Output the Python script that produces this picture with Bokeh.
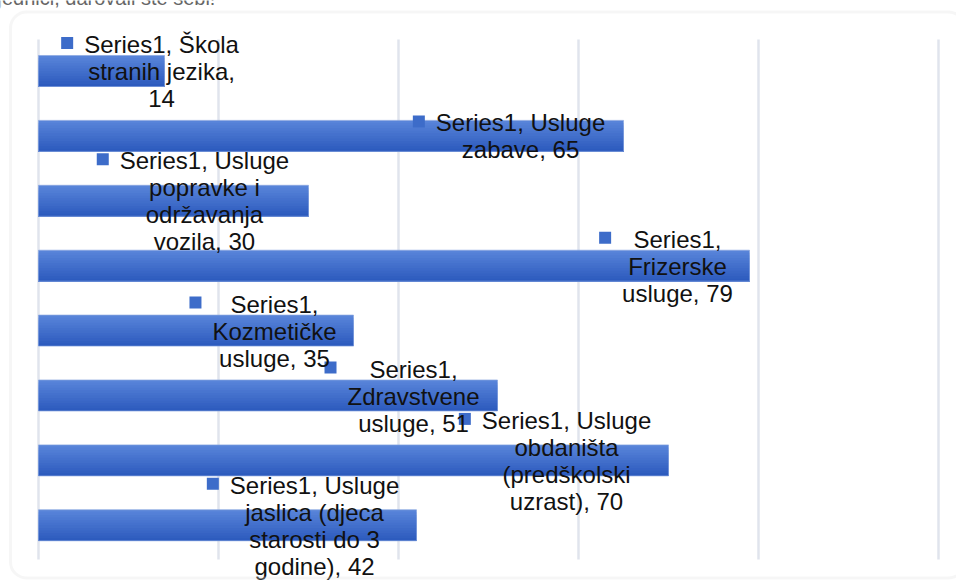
from bokeh.plotting import figure
from bokeh.models import ColumnDataSource, Range1d, BoxAnnotation
from bokeh.core.properties import value
from bokeh.embed import file_html
from bokeh.resources import INLINE

# ---------------- data ----------------
categories = [
    "Škola stranih jezika",
    "Usluge zabave",
    "Usluge popravke i održavanja vozila",
    "Frizerske usluge",
    "Kozmetičke usluge",
    "Zdravstvene usluge",
    "Usluge obdaništa (predškolski uzrast)",
    "Usluge jaslica (djeca starosti do 3 godine)",
]
values = [14, 65, 30, 79, 35, 51, 70, 42]
series_name = "Series1"
grid_ticks = [0, 20, 40, 60, 80, 100]
caption_text = "jednici, darovali ste sebi!"

# ---------------- label layout (positions / wrap widths) ----------------
label_x = [13.67, 53.56, 18.44, 71.0, 26.22, 41.67, 58.67, 30.67]
label_wrap_px = [165, 175, 175, 140, 140, 140, 175, 175]

# ---------------- styles ----------------
W, H = 956, 581
X0_PX = 38.0     # pixel column of value 0
PX_X = 9.0       # pixels per x unit
Y_FIRST = 70.5   # pixel row of first category centre
PX_Y = 64.9      # pixels per category
FONT = "Liberation Sans"
FS = 24
LINE_H = 27
TEXT_SHIFT = -9  # renderer baseline correction (px)
BAR_H = 0.478
BAR_TOP = (0x58, 0x84, 0xd9)
BAR_BOT = (0x2d, 0x5b, 0xbe)
KEY_COLOR = "#3d6cc9"
GRID_COLOR = "#e0e4ed"

n = len(categories)
y_pos = [n - 1 - i for i in range(n)]


def px_to_x(px):
    return (px - X0_PX) / PX_X


def py_to_y(py):
    return (n - 1) - (py - Y_FIRST) / PX_Y


# Arial / Liberation Sans advance widths (per 1000 em)
AW = {" ": 278, "(": 333, ")": 333, ",": 278, "F": 611, "K": 667, "S": 667,
      "U": 722, "Z": 611, "Š": 667, "a": 556, "b": 556, "c": 500, "č": 500,
      "d": 556, "e": 556, "g": 556, "h": 556, "i": 222, "j": 222, "k": 500,
      "l": 222, "m": 833, "n": 556, "o": 556, "p": 556, "r": 333, "s": 500,
      "š": 500, "t": 278, "u": 556, "v": 500, "z": 500, "ž": 500}


def tw(s):
    return sum(AW.get(c, 556) for c in s) * FS / 1000.0


def wrap(text, maxw):
    words = text.split(" ")
    lines, cur = [], ""
    for w in words:
        cand = w if not cur else cur + " " + w
        if tw(cand) <= maxw or not cur:
            cur = cand
        else:
            lines.append(cur)
            cur = w
    lines.append(cur)
    return lines


# ---------------- figure ----------------
p = figure(width=W, height=H, output_backend="svg", toolbar_location=None,
           x_range=Range1d(px_to_x(0), px_to_x(W)),
           y_range=Range1d(py_to_y(H), py_to_y(0)),
           min_border=0, min_border_left=0, min_border_right=0,
           min_border_top=0, min_border_bottom=0)
p.xaxis.visible = False
p.yaxis.visible = False
p.grid.visible = False
p.outline_line_color = None
p.background_fill_color = "white"
p.border_fill_color = "white"

# caption text cut off at the top of the page
p.text(x=[px_to_x(-3)], y=[py_to_y(6.5)], text=[caption_text],
       y_offset=[TEXT_SHIFT],
       text_font=value(FONT), text_font_size="20px", text_color="#666666",
       text_baseline="alphabetic", text_align="left")

# outer rounded frame
box = BoxAnnotation(left=px_to_x(10), right=px_to_x(964),
                    top=py_to_y(11.5), bottom=py_to_y(577.5),
                    fill_color=None, line_color="#e2e2e2", line_width=3,
                    border_radius=16)
p.add_layout(box)

# vertical gridlines
p.segment(x0=grid_ticks, x1=grid_ticks,
          y0=[py_to_y(559)] * len(grid_ticks),
          y1=[py_to_y(39)] * len(grid_ticks),
          line_color=GRID_COLOR, line_width=2.5)

# bars with vertical gradient (overlapping slices, no seams)
NS = 12
for s in range(NS):
    t = s / (NS - 1)
    col = tuple(int(round(BAR_TOP[k] + (BAR_BOT[k] - BAR_TOP[k]) * t)) for k in range(3))
    hexc = "#%02x%02x%02x" % col
    top_off = BAR_H / 2 - s * BAR_H / NS
    p.hbar(y=[yy + (top_off - BAR_H / 2) / 2 for yy in y_pos], right=values,
           left=0, height=top_off + BAR_H / 2, fill_color=hexc, line_color=None)
p.hbar(y=y_pos, right=values, left=0, height=BAR_H, fill_color=None,
       line_color="#8aa6e0", line_width=1, line_alpha=0.7)

# data labels
tx, ty, tt, toff = [], [], [], []
kx, ky = [], []
for i in range(n):
    full = f"{series_name}, {categories[i]}, {values[i]}"
    lines = wrap(full, label_wrap_px[i])
    m = len(lines)
    maxw = max(tw(l) for l in lines)
    for k, l in enumerate(lines):
        tx.append(label_x[i])
        ty.append(y_pos[i])
        tt.append(l)
        toff.append((k - (m - 1) / 2) * LINE_H + 0.358 * FS + 1 + TEXT_SHIFT)
    kx.append(label_x[i] - (maxw / 2 + 11 + 6) / PX_X)
    ky.append(y_pos[i] + ((m - 1) / 2 * LINE_H + 1) / PX_Y)

p.scatter(x=kx, y=ky, marker="square", size=12, fill_color=KEY_COLOR,
          line_color=None)

src = ColumnDataSource(dict(x=tx, y=ty, text=tt, yo=toff))
p.text(x="x", y="y", text="text", y_offset="yo", source=src,
       text_font=value(FONT), text_font_size=f"{FS}px", text_align="center",
       text_baseline="alphabetic", text_color="#111111")

open("out.html", "w").write(file_html(p, INLINE))
